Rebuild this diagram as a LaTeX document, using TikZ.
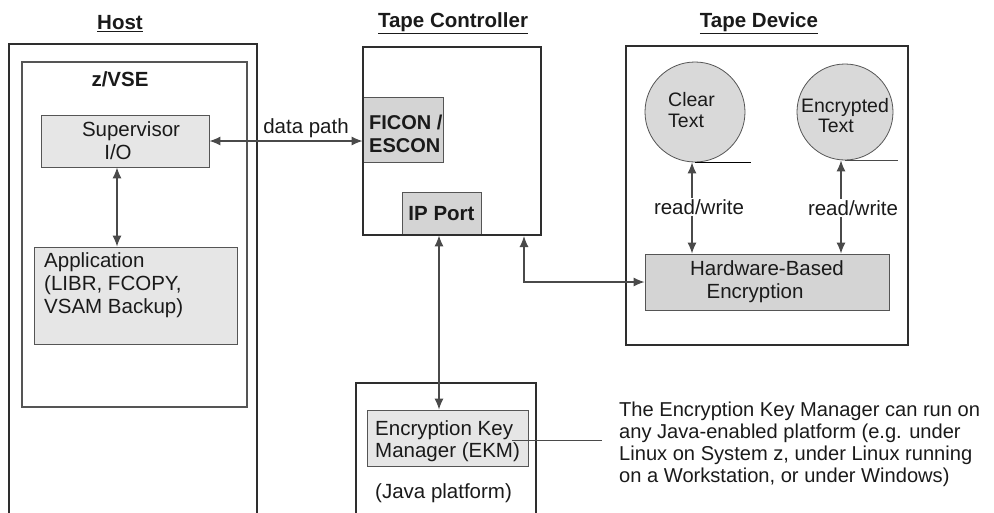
\documentclass[tikz,border=0pt]{standalone}
\usepackage{fontspec}
\setmainfont{Liberation Sans}
\usetikzlibrary{arrows.meta,calc}
\definecolor{ln}{HTML}{2E2E2E}
\definecolor{thinln}{HTML}{555555}
\definecolor{arrc}{HTML}{4A4A4A}
\definecolor{boxlight}{HTML}{E6E6E6}
\definecolor{boxmid}{HTML}{D4D4D4}
\definecolor{circfill}{HTML}{D9D9D9}
\definecolor{txt}{HTML}{1A1A1A}
\begin{document}
\begin{tikzpicture}[x=1pt,y=-1pt,
  every node/.style={font=\fontsize{20.5}{23}\selectfont, text=txt, inner sep=0pt},
  outerbox/.style={draw=ln, line width=2pt},
  innerbox/.style={draw=thinln, line width=1.2pt},
  lightbox/.style={draw=thinln, line width=0.9pt, fill=boxlight},
  midbox/.style={draw=thinln, line width=0.9pt, fill=boxmid},
  tapecirc/.style={circle, draw=thinln, line width=0.8pt, fill=circfill},
  arr/.style={{Latex[length=11pt,width=9pt]}-{Latex[length=11pt,width=9pt]}, draw=arrc, line width=1.1pt},
  conn/.style={draw=arrc, line width=1pt},
  title/.style={font=\fontsize{20.5}{23}\selectfont\bfseries},
  rwlabel/.style={fill=white, inner sep=1.5pt}
]
\useasboundingbox (0,0) rectangle (994,512);

% ---------- Host ----------
\node[title] (thost) at (120,24) {\underline{Host}};
\draw[outerbox] (9,516) -- (9,44) -- (257,44) -- (257,516);
\node[innerbox, minimum width=225pt, minimum height=345pt] (zvse) at (134.5,234.5) {};
\node[title] (zvselbl) at (120,79) {z/VSE};
\node[lightbox, minimum width=168pt, minimum height=52pt, align=center] (sup) at (125,141)
  {\hspace*{12pt}Supervisor\\I/O\hspace*{14pt}};
\node[lightbox, minimum width=203pt, minimum height=97pt] (app) at (135.5,295.5) {};
\node[anchor=north west, align=left] (apptxt) at (44,252) {Application\\(LIBR, FCOPY,\\VSAM Backup)};

% ---------- Tape Controller ----------
\node[title] (tctrl) at (453,23) {\underline{Tape Controller}};
\node[midbox, minimum width=80pt, minimum height=65pt] (ficon) at (403,129.5) {};
\node[anchor=west, align=left, font=\fontsize{20}{23}\selectfont\bfseries] (ficontxt) at (369,134) {FICON /\\ESCON};
\node[midbox, minimum width=79pt, minimum height=43pt, font=\fontsize{20.5}{23}\selectfont\bfseries] (ipport) at (441.5,213.5) {IP Port};
\node[outerbox, minimum width=178pt, minimum height=188pt] (ctrl) at (452,141) {};

% ---------- Tape Device ----------
\node[title] (tdev) at (759,23) {\underline{Tape Device}};
\node[outerbox, minimum width=282pt, minimum height=299pt] (tape) at (767,195.5) {};
\node[tapecirc, minimum size=100pt] (clear) at (695,112) {};
\node[anchor=west, align=left, font=\fontsize{19.5}{21}\selectfont] (cleartxt) at (668,110.5) {Clear\\Text};
\node[tapecirc, minimum size=96pt] (enc) at (845,112) {};
\node[align=center, font=\fontsize{19.5}{20}\selectfont] (enctxt) at (845,116) {Encrypted\\Text\hspace*{18pt}};
\draw[conn, line width=0.9pt, draw=black] (clear.south) -- ++(56,0);
\draw[conn, line width=0.9pt] (enc.south) -- ++(53,0);
\node[midbox, minimum width=244pt, minimum height=56pt, align=center] (hw) at (767,282)
  {Hardware-Based\\Encryption\hspace*{24pt}};

% ---------- EKM ----------
\draw[outerbox] (356,516) -- (356,383) -- (536,383) -- (536,516);
\node[lightbox, minimum width=161pt, minimum height=56pt] (ekmin) at (447.5,438) {};
\node[anchor=west, align=left, font=\fontsize{20.5}{22}\selectfont] (ekmtxt) at (375,441) {Encryption Key\\Manager (EKM)};
\node[anchor=west] (java) at (375,493) {(Java platform)};
\node[anchor=west, align=left, font=\fontsize{20.1}{22}\selectfont] (note) at (619,444)
  {The Encryption Key Manager can run on\\any Java-enabled platform (e.g. under\\Linux on System z, under Linux running\\on a Workstation, or under Windows)};

% ---------- connectors ----------
\coordinate (xa) at (117,0);
\draw[arr] (sup.south -| xa) -- (app.north -| xa);
\draw[arr] (sup.east) -- (sup.east -| ficon.west);
\node (dplbl) at (306,128) {data path};
\coordinate (xb) at (439,0);
\draw[arr] (ipport.south -| xb) -- (ekmin.north -| xb);
\coordinate (xc) at (524,0);
\draw[arr] (ctrl.south -| xc) |- (hw.west);
\coordinate (xd) at (692,0);
\draw[arr] (clear.south -| xd) -- (hw.north -| xd);
\coordinate (xe) at (841,0);
\draw[arr] (enc.south -| xe) -- (hw.north -| xe);
\node[rwlabel] (rw1) at (699,207) {read/write};
\node[rwlabel] (rw2) at (853,208) {read/write};
\coordinate (ekmtail) at (602,440);
\draw[conn] (ekmin.east) ++(-16,2) -- (ekmtail);
\end{tikzpicture}
\end{document}
